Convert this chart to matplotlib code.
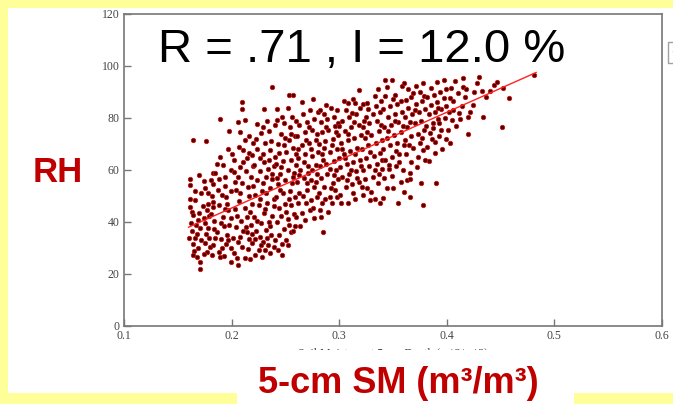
import matplotlib
matplotlib.use("Agg")
import matplotlib.pyplot as plt
from matplotlib.patches import Rectangle
from matplotlib.lines import Line2D
import numpy as np

# ---------------- data ----------------
sm_a = [0.161,0.161,0.161,0.163,0.164,0.160,0.166,0.164,0.169,0.175,
        0.180,0.164,0.171,0.171,0.169,0.175,0.171,0.178,0.172,0.175,
        0.174,0.164,0.176,0.163,0.167,0.176,0.179,0.173,0.166,0.170,
        0.177,0.168,0.174,0.162,0.178,0.172,0.166,0.179,0.165,0.177,
        0.161,0.170,0.178,0.168,0.174]
rh_a = [56.4,54.2,45.7,44.0,42.7,33.7,33.7,31.5,29.9,31.8,
        30.3,27.3,24.7,21.8,40.8,39.7,37.6,37.6,51.3,53.0,
        55.9,71.5,71.3,36.5,38.8,35.2,42.3,46.2,48.5,43.5,
        28.5,26.5,27.8,39.5,47.0,33.0,52.0,34.0,29.0,44.5,
        48.8,58.0,51.0,35.5,41.5]
sm_b = [0.181,0.183,0.194,0.183,0.183,0.191,0.199,0.195,0.183,0.183,
        0.188,0.182,0.189,0.199,0.199,0.185,0.189,0.189,0.198,0.197,
        0.200,0.186,0.190,0.193,0.196,0.184,0.192,0.197,0.188,0.195,
        0.191,0.185,0.198,0.187,0.194,0.199,0.192,0.186,0.181,0.196,
        0.190,0.184,0.193,0.197,0.182,0.188,0.199,0.194]
rh_b = [56.2,58.7,57.4,54.6,47.8,50.4,52.0,49.7,45.9,31.2,
        28.6,27.3,26.7,29.9,24.7,58.7,65.1,79.6,75.1,68.0,
        66.2,36.0,33.5,38.5,35.0,40.5,42.0,44.5,46.5,31.5,
        30.0,34.0,39.0,52.5,54.0,60.0,62.0,62.5,43.0,47.0,
        39.5,37.5,27.0,33.0,50.0,56.5,41.5,45.0]
sm_c = [0.202,0.206,0.202,0.205,0.206,0.212,0.217,0.219,0.214,0.208,
        0.206,0.210,0.210,0.206,0.212,0.208,0.216,0.212,0.220,0.211,
        0.202,0.216,0.219,0.211,0.204,0.209,0.214,0.218,0.203,0.207,
        0.212,0.216,0.219,0.204,0.210,0.215,0.218,0.208,0.213,0.220,
        0.201,0.215,0.210,0.219,0.205,0.213,0.217,0.208,0.203,0.214,
        0.220,0.207,0.216,0.211]
rh_c = [59.3,57.2,28.0,26.0,23.5,26.0,25.6,31.8,36.3,34.3,
        32.4,86.3,83.5,78.6,79.2,74.7,73.1,71.5,70.5,67.7,
        63.8,66.6,65.8,63.2,38.0,40.5,42.0,39.0,45.0,48.0,
        45.5,50.0,47.0,52.5,55.0,53.5,57.5,61.0,59.5,61.5,
        34.0,29.5,30.5,35.5,42.5,38.0,44.0,51.0,55.5,64.5,
        54.0,69.0,33.5,36.5]
sm_d = [0.225,0.231,0.234,0.226,0.233,0.229,0.238,0.230,0.224,0.229,
        0.235,0.227,0.231,0.224,0.236,0.226,0.240,0.240,0.230,0.239,
        0.222,0.228,0.236,0.239,0.223,0.232,0.237,0.227,0.235,0.221,
        0.230,0.238,0.225,0.233,0.239,0.222,0.228,0.236,0.224,0.232,
        0.238,0.226,0.234,0.221,0.229,0.237,0.223,0.233,0.240,0.227,
        0.236,0.231,0.224,0.239,0.229,0.235,0.222,0.238,0.232,0.226]
rh_d = [29.2,29.2,31.2,34.3,33.7,32.4,91.8,83.5,77.7,76.4,
        75.0,74.3,70.3,68.1,67.7,64.5,77.3,65.1,62.9,61.6,
        27.5,26.5,28.0,30.5,36.5,37.0,35.0,39.5,40.0,42.0,
        43.5,42.5,46.5,47.5,49.0,50.5,52.0,53.0,56.0,57.5,
        56.5,59.5,60.5,62.0,66.0,71.0,72.0,79.0,33.0,31.0,
        38.5,45.0,40.5,46.0,55.0,64.0,33.5,58.5,51.0,49.0]
sm_e = [0.253,0.257,0.242,0.252,0.242,0.247,0.243,0.250,0.253,0.243,
        0.247,0.251,0.252,0.244,0.249,0.255,0.259,0.242,0.246,0.252,
        0.258,0.244,0.250,0.255,0.241,0.248,0.254,0.259,0.243,0.250,
        0.256,0.245,0.252,0.258,0.241,0.248,0.255,0.260,0.244,0.251,
        0.257,0.246,0.254,0.259,0.249,0.256,0.247,0.253,0.257,0.245,
        0.251,0.257,0.242,0.249,0.255,0.246,0.253,0.260]
rh_e = [88.8,88.8,83.5,84.0,79.2,80.5,70.0,72.2,71.5,29.2,
        31.5,33.0,31.0,35.0,37.5,36.0,38.5,40.0,42.5,41.0,
        43.0,45.5,47.0,46.5,49.5,51.0,52.0,49.5,54.5,56.0,
        55.0,58.5,60.0,59.0,62.5,63.5,64.0,62.0,66.5,67.0,
        68.5,74.0,76.5,73.0,78.0,80.5,27.5,39.0,36.5,52.5,
        44.0,57.5,57.0,69.5,74.0,61.0,49.0,66.0]
sm_f = [0.265,0.276,0.280,0.268,0.277,0.265,0.273,0.262,0.274,0.279,
        0.260,0.263,0.270,0.277,0.261,0.267,0.274,0.279,0.264,0.271,
        0.278,0.262,0.268,0.275,0.280,0.265,0.272,0.278,0.261,0.268,
        0.275,0.263,0.270,0.277,0.266,0.273,0.269,0.276,0.264,0.271,
        0.267,0.279,0.262,0.274,0.270,0.266,0.278,0.272,0.260,0.275,
        0.269,0.263]
rh_f = [86.0,87.2,82.4,40.8,41.4,43.3,44.6,47.2,48.5,49.7,
        42.0,51.0,52.5,53.5,55.5,57.0,56.0,58.5,60.0,61.5,
        62.0,64.5,66.0,65.5,67.0,69.5,70.5,71.5,73.0,74.5,
        75.5,77.5,78.5,79.5,81.5,83.0,47.5,45.5,38.5,59.0,
        63.0,74.0,68.0,68.0,55.0,50.0,55.5,76.5,79.0,60.0,
        71.5,58.0]
sm_g = [0.285,0.282,0.284,0.293,0.291,0.296,0.288,0.292,0.298,0.281,
        0.286,0.294,0.299,0.283,0.289,0.297,0.282,0.288,0.295,0.300,
        0.284,0.291,0.298,0.281,0.287,0.294,0.299,0.284,0.290,0.296,
        0.283,0.289,0.295,0.286,0.292,0.287,0.298,0.283,0.290,0.295,
        0.285,0.293,0.288,0.297,0.282,0.291,0.299,0.286]
rh_g = [36.3,44.6,47.2,47.2,49.7,52.3,85.0,83.7,83.0,51.0,
        53.5,55.0,56.5,57.0,58.5,60.0,61.5,62.5,63.5,64.5,
        66.0,67.0,68.0,70.0,71.0,72.0,73.5,74.5,75.5,77.0,
        78.5,79.5,80.5,81.5,53.0,49.0,49.5,42.0,44.0,58.0,
        64.0,69.5,76.5,74.5,83.0,60.5,78.0,68.5]
sm_h = [0.302,0.308,0.315,0.313,0.304,0.308,0.313,0.315,0.318,0.301,
        0.306,0.312,0.318,0.303,0.309,0.316,0.301,0.307,0.313,0.319,
        0.304,0.310,0.317,0.302,0.308,0.314,0.320,0.305,0.311,0.318,
        0.303,0.309,0.316,0.306,0.312,0.319,0.311,0.305,0.315,0.308,
        0.300,0.317,0.314,0.303,0.320,0.307]
rh_h = [47.4,47.4,48.7,51.0,86.7,85.6,87.5,85.6,90.8,50.5,
        53.5,54.5,55.5,57.5,58.5,59.5,61.0,62.5,63.0,64.0,
        66.0,67.5,68.5,70.5,71.5,72.5,73.5,75.0,76.5,77.5,
        79.0,80.5,81.5,83.0,82.0,84.0,60.0,64.5,66.0,74.0,
        77.0,57.0,78.5,68.0,61.5,56.0]
sm_i = [0.322,0.326,0.333,0.329,0.333,0.338,0.322,0.330,0.321,0.326,
        0.324,0.331,0.337,0.322,0.328,0.335,0.340,0.325,0.332,0.338,
        0.321,0.327,0.334,0.340,0.324,0.330,0.337,0.322,0.328,0.335,
        0.325,0.331,0.338,0.327,0.334,0.339,0.336,0.329,0.323,0.339,
        0.333,0.326,0.336,0.340]
rh_i = [85.4,85.6,88.5,48.5,48.7,47.2,50.4,51.7,53.6,53.0,
        56.5,57.5,58.5,60.0,61.5,62.5,60.5,64.5,65.5,66.5,
        68.0,69.5,70.5,71.5,72.5,73.5,75.0,76.5,78.0,79.0,
        80.5,81.5,82.5,83.5,84.5,86.5,55.0,67.0,79.0,77.5,
        60.0,74.5,91.0,64.0]
sm_j = [0.343,0.349,0.344,0.358,0.352,0.341,0.355,0.344,0.350,0.357,
        0.349,0.342,0.346,0.353,0.359,0.343,0.349,0.356,0.341,0.347,
        0.354,0.360,0.344,0.351,0.357,0.342,0.348,0.355,0.345,0.352,
        0.358,0.341,0.347,0.354,0.350,0.357,0.343,0.346,0.353,0.359,
        0.345,0.352,0.356]
rh_j = [94.6,94.6,92.0,92.3,88.8,49.1,47.2,53.0,53.0,55.5,
        57.7,57.0,60.5,61.5,60.0,64.0,65.0,66.0,68.0,69.5,
        70.5,69.5,72.5,73.5,74.5,76.5,77.5,78.5,80.5,81.5,
        82.5,83.5,84.5,85.5,87.5,86.5,88.5,62.0,67.5,77.0,
        75.0,79.0,63.0]
sm_k = [0.360,0.363,0.366,0.366,0.366,0.376,0.378,0.360,0.364,0.367,
        0.378,0.371,0.380,0.378,0.372,0.367,0.362,0.369,0.375,0.361,
        0.367,0.373,0.379,0.363,0.370,0.376,0.361,0.368,0.374,0.380,
        0.364,0.371,0.377,0.362,0.369,0.375,0.373,0.365,0.377,0.370,
        0.379,0.366]
rh_k = [51.7,56.2,49.5,59.0,56.4,55.1,46.5,93.6,91.0,88.0,
        93.6,92.3,63.8,67.7,61.3,63.2,66.0,68.5,70.5,71.5,
        73.0,74.0,75.5,76.5,78.0,79.0,80.5,81.5,82.5,83.5,
        84.0,85.5,86.5,87.0,89.5,90.0,65.0,69.5,72.5,83.0,
        88.5,78.5]
sm_l = [0.390,0.389,0.389,0.395,0.384,0.397,0.397,0.391,0.382,0.386,
        0.393,0.399,0.381,0.387,0.392,0.398,0.383,0.389,0.395,0.385,
        0.391,0.382,0.388,0.394,0.399,0.385,0.392,0.383,0.396,0.387,
        0.399,0.393]
rh_l = [55.1,66.4,70.9,75.4,74.1,87.6,94.6,94.0,69.0,72.0,
        73.0,72.0,77.0,78.0,79.5,80.0,81.5,82.5,83.5,85.0,
        86.0,88.0,89.0,90.0,91.0,91.5,84.0,63.5,68.0,76.0,
        84.5,78.0]
sm_m = [0.415,0.408,0.415,0.420,0.403,0.420,0.412,0.405,0.403,0.406,
        0.406,0.410,0.417,0.401,0.409,0.414,0.402,0.418,0.404,0.411]
rh_m = [95.3,94.3,92.0,73.8,70.5,80.5,79.5,79.2,87.6,83.1,
        86.7,89.5,88.0,75.5,77.0,84.5,82.5,91.0,91.5,82.0]
sm_n = [0.430,0.425,0.433,0.444,0.481,0.458,0.451,0.424,0.428,0.436,
        0.440,0.422,0.447,0.452,0.434]
rh_n = [95.9,90.1,90.5,92.7,96.5,87.6,76.4,85.0,93.5,88.0,
        90.5,82.5,94.0,91.5,80.5]

fit_sm = [0.160, 0.483]
fit_rh = [38.0, 97.5]

x_ticks = [0.1, 0.2, 0.3, 0.4, 0.5, 0.6]
x_tick_labels = ["0.1", "0.2", "0.3", "0.4", "0.5", "0.6"]
y_ticks = [0, 20, 40, 60, 80, 100, 120]
y_tick_labels = ["0", "20", "40", "60", "80", "100", "120"]

sm_groups = [sm_a, sm_b, sm_c, sm_d, sm_e, sm_f, sm_g, sm_h, sm_i, sm_j, sm_k, sm_l, sm_m, sm_n]
rh_groups = [rh_a, rh_b, rh_c, rh_d, rh_e, rh_f, rh_g, rh_h, rh_i, rh_j, rh_k, rh_l, rh_m, rh_n]
for i, (s, r) in enumerate(zip(sm_groups, rh_groups)):
    assert len(s) == len(r), (i, len(s), len(r))
sm_all = np.concatenate([np.array(s) for s in sm_groups])
rh_all = np.concatenate([np.array(r) for r in rh_groups])

# ---------------- figure ----------------
W, H = 673, 404
fig = plt.figure(figsize=(W / 100, H / 100), dpi=100)
fig.patch.set_facecolor("#FFFF99")

def px_rect(x0, y0, x1, y1, **kw):
    return Rectangle((x0 / W, 1 - y1 / H), (x1 - x0) / W, (y1 - y0) / H,
                     transform=fig.transFigure, **kw)

fig.add_artist(px_rect(8, 8, 673, 393, facecolor="white", edgecolor="none", zorder=-2))

ax = fig.add_axes([124 / W, 1 - 326 / H, (662 - 124) / W, (326 - 14) / H])
ax.set_facecolor("white")
ax.scatter(sm_all, rh_all, s=10, c="#4a0000", edgecolors="#d01010", linewidths=0.6, zorder=3)
ax.plot(fit_sm, fit_rh, color="#ff2020", lw=1.0, zorder=4)

ax.set_xlim(0.1, 0.6)
ax.set_ylim(0, 120)
ax.set_xticks(x_ticks)
ax.set_xticklabels(x_tick_labels)
ax.set_yticks(y_ticks)
ax.set_yticklabels(y_tick_labels)
ax.tick_params(direction="in", length=5, width=1, color="#777777",
               labelsize=8.5, labelcolor="#444444", pad=3,
               top=False, right=False)
for lab in ax.get_xticklabels() + ax.get_yticklabels():
    lab.set_fontfamily("Liberation Serif")
for sp in ax.spines.values():
    sp.set_color("#777777")
    sp.set_linewidth(1.2)
ax.set_xlabel("Soil Moisture at 5-cm Depth (m^3/m^3)", fontfamily="Liberation Serif",
              fontsize=8.5, color="#444444", labelpad=4.5)

# legend box cut by the right edge (only its frame and line show)
leg_line = Line2D([0], [0], color="#ff6060", lw=1.0)
fig.legend([leg_line], [" "], loc="upper left", bbox_to_anchor=(662 / W, 1 - 36 / H),
           frameon=True, edgecolor="#888888", fancybox=False, fontsize=8,
           borderpad=0.5, handlelength=1.5)

# big annotation
fig.text(158 / W, 1 - 62 / H, "R = .71 , I = 12.0 %", fontfamily="Liberation Sans",
         fontsize=34, color="black", ha="left", va="baseline")

# slide labels
fig.text(33 / W, 1 - 182 / H, "RH", fontfamily="Liberation Sans", fontweight="bold",
         fontsize=25, color="#C00000", ha="left", va="baseline")
fig.add_artist(px_rect(237, 350, 574, 404, facecolor="white", edgecolor="none", zorder=5))
fig.text(258 / W, 1 - 393 / H, "5-cm SM (m³/m³)", fontfamily="Liberation Sans",
         fontweight="bold", fontsize=26, color="#C00000", ha="left", va="baseline", zorder=6)

fig.savefig("out.png", dpi=100)
